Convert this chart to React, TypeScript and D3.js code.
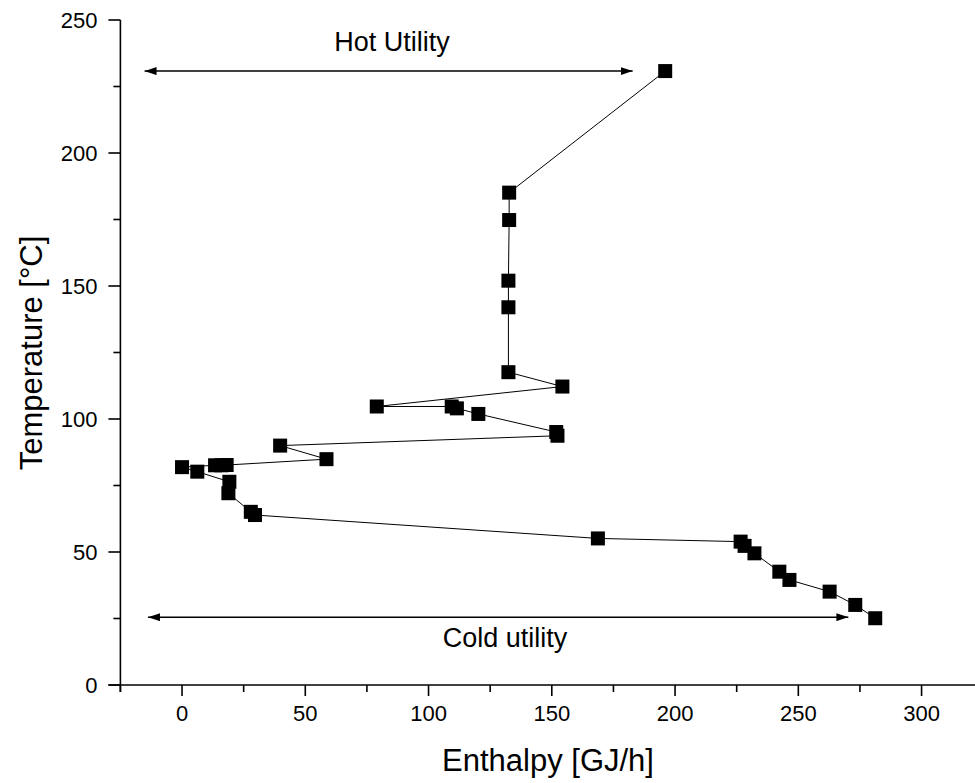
import React from "react";
import * as d3 from "d3";

const enthalpy = [196, 132.7, 132.7, 132.4, 132.4, 132.4, 154.3, 79, 109.4, 111.5, 120.2, 151.8, 152.3, 39.8, 58.6, 18.1, 16, 13.4, 0, 6.2, 19.2, 18.8, 27.9, 29.6, 168.7, 226.6, 228.2, 232.2, 242.3, 246.4, 262.7, 273.1, 281.2];
const temperature = [230.8, 185.1, 174.8, 152, 142, 117.6, 112.2, 104.7, 104.7, 104, 101.9, 95.1, 93.7, 90, 84.9, 82.7, 82.6, 82.6, 81.9, 80.2, 76.4, 72.1, 65.1, 63.9, 55.1, 53.9, 52.3, 49.5, 42.6, 39.5, 35.1, 30.1, 25.1];

const xTicks = [0, 50, 100, 150, 200, 250, 300];
const yTicks = [0, 50, 100, 150, 200, 250];
const xMinor = [-25, 25, 75, 125, 175, 225, 275, 325];
const yMinor = [25, 75, 125, 175, 225];

const hotUtility = { label: "Hot Utility", from: -15.2, to: 182.8, t: 230.8 };
const coldUtility = { label: "Cold utility", from: -13.8, to: 270.3, t: 25.5 };

const W = 975;
const H = 783;
const FONT = "Liberation Sans, Arial, sans-serif";

export default function App() {
  const x = d3.scaleLinear().domain([-25, 325]).range([120.4, 983.2]);
  const y = d3.scaleLinear().domain([0, 250]).range([685, 20]);
  const line = d3.line<number>().x((_, i) => x(enthalpy[i])).y((_, i) => y(temperature[i]));
  const idx = enthalpy.map((_, i) => i);
  const x0 = x(-25);
  const y0 = y(0);
  const sq = 14;
  return (
    <svg width={W} height={H} style={{ position: "absolute", left: 0, top: 0, background: "#fff" }}>
      <defs>
        <marker id="ah" viewBox="0 0 12 8" refX="12" refY="4" markerWidth="12" markerHeight="8" markerUnits="userSpaceOnUse" orient="auto-start-reverse">
          <path d="M0,0 L12,4 L0,8 Z" fill="#000" />
        </marker>
      </defs>
      <rect x={0} y={0} width={W} height={H} fill="#fff" />
      {/* axes */}
      <line x1={x0} x2={x0} y1={y(250)} y2={y0 + 7} stroke="#000" strokeWidth={1.6} />
      <line x1={x0 - 12} x2={W} y1={y0} y2={y0} stroke="#000" strokeWidth={1.6} />
      {xTicks.map((t) => (
        <g key={"xt" + t}>
          <line x1={x(t)} x2={x(t)} y1={y0} y2={y0 + 11} stroke="#000" strokeWidth={1.6} />
          <text x={x(t)} y={y0 + 36} textAnchor="middle" fontFamily={FONT} fontSize={22}>{t}</text>
        </g>
      ))}
      {xMinor.map((t) => (
        <line key={"xm" + t} x1={x(t)} x2={x(t)} y1={y0} y2={y0 + 7} stroke="#000" strokeWidth={1.6} />
      ))}
      {yTicks.map((t) => (
        <g key={"yt" + t}>
          <line x1={x0 - 12} x2={x0} y1={y(t)} y2={y(t)} stroke="#000" strokeWidth={1.6} />
          <text x={x0 - 23} y={y(t) + 8} textAnchor="end" fontFamily={FONT} fontSize={22}>{t}</text>
        </g>
      ))}
      {yMinor.map((t) => (
        <line key={"ym" + t} x1={x0 - 7} x2={x0} y1={y(t)} y2={y(t)} stroke="#000" strokeWidth={1.6} />
      ))}
      {/* series */}
      <path d={line(idx) || ""} fill="none" stroke="#000" strokeWidth={1} />
      {idx.map((i) => (
        <rect key={i} x={x(enthalpy[i]) - sq / 2} y={y(temperature[i]) - sq / 2} width={sq} height={sq} fill="#000" />
      ))}
      {/* utilities */}
      {[hotUtility, coldUtility].map((u) => (
        <line key={u.label} x1={x(u.from)} x2={x(u.to)} y1={y(u.t)} y2={y(u.t)} stroke="#000" strokeWidth={1.5} markerStart="url(#ah)" markerEnd="url(#ah)" />
      ))}
      <text x={392} y={y(hotUtility.t) - 20} textAnchor="middle" fontFamily={FONT} fontSize={27}>{hotUtility.label}</text>
      <text x={505} y={y(coldUtility.t) + 30} textAnchor="middle" fontFamily={FONT} fontSize={27}>{coldUtility.label}</text>
      {/* titles */}
      <text x={548} y={771} textAnchor="middle" fontFamily={FONT} fontSize={31}>Enthalpy [GJ/h]</text>
      <text transform={`translate(42,353) rotate(-90)`} textAnchor="middle" fontFamily={FONT} fontSize={31}>Temperature [°C]</text>
    </svg>
  );
}
